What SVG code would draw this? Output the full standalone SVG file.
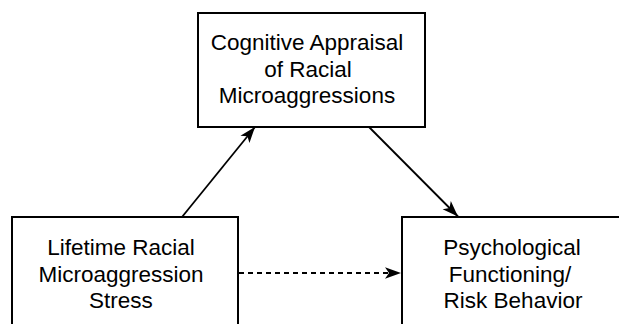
<svg xmlns="http://www.w3.org/2000/svg" width="619" height="324" viewBox="0 0 619 324">
  <style>
    .box { fill: #ffffff; stroke: #000000; stroke-width: 2; }
    .label { font-family: "Liberation Sans", Arial, Helvetica, sans-serif; font-size: 22.5px; fill: #000000; text-anchor: middle; }
    .edge { fill: none; stroke: #000000; stroke-width: 1.8; }
    .dashed { stroke-dasharray: 5 4; }
  </style>
  <defs>
    <!-- notched arrowhead shared by all connectors -->
    <marker id="arrow" markerUnits="userSpaceOnUse" markerWidth="18" markerHeight="14" viewBox="0 0 18 14" refX="17" refY="7" orient="auto">
      <path d="M1,1.2 L17,7 L1,12.8 L5,7 Z" fill="#000000"/>
    </marker>
  </defs>
  <rect width="619" height="324" fill="#ffffff"/>

  <g id="connectors">
    <line class="edge" x1="182" y1="217" x2="255" y2="127" marker-end="url(#arrow)"/>
    <line class="edge" x1="369" y1="127" x2="458" y2="216.5" marker-end="url(#arrow)"/>
    <line class="edge dashed" x1="239" y1="273" x2="401" y2="273" marker-end="url(#arrow)"/>
  </g>

  <g id="appraisal">
    <rect class="box" x="198" y="13" width="227" height="114"/>
    <text class="label" x="307" y="50">Cognitive Appraisal</text>
    <text class="label" x="308" y="77">of Racial</text>
    <text class="label" x="307" y="103">Microaggressions</text>
  </g>

  <g id="stress">
    <rect class="box" x="12" y="217" width="226" height="120"/>
    <text class="label" x="121" y="255">Lifetime Racial</text>
    <text class="label" x="121" y="282">Microaggression</text>
    <text class="label" x="121" y="308">Stress</text>
  </g>

  <g id="outcome">
    <rect class="box" x="402" y="217" width="230" height="120"/>
    <text class="label" x="512" y="255">Psychological</text>
    <text class="label" x="510" y="282">Functioning/</text>
    <text class="label" x="513" y="308">Risk Behavior</text>
  </g>
</svg>
